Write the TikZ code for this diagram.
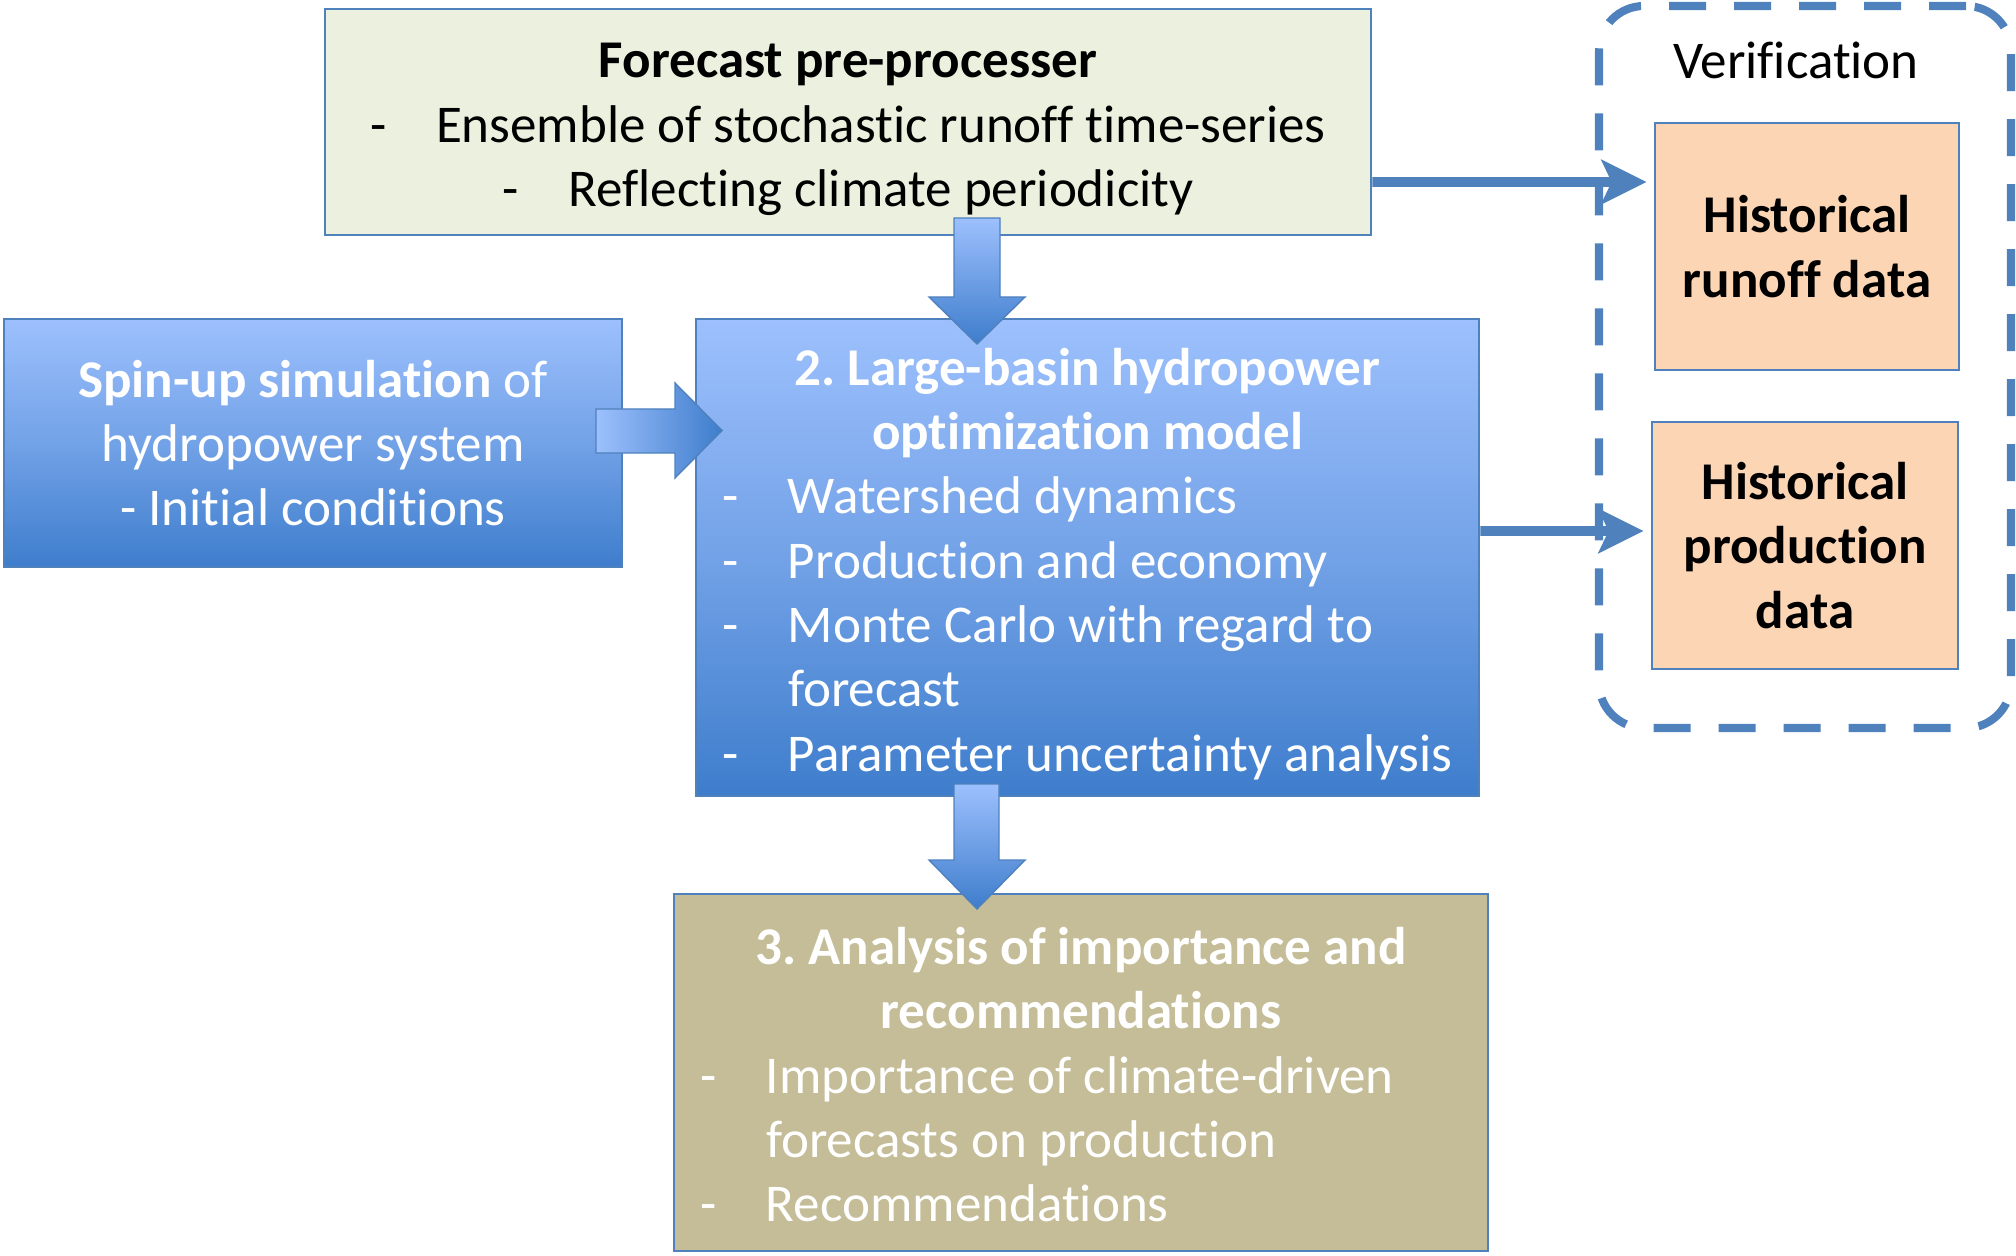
\documentclass[tikz,border=0pt]{standalone}
\usepackage{fontspec}
\setmainfont[Ligatures=NoCommon]{Carlito}
\usepackage{array}
\usetikzlibrary{arrows.meta}

\definecolor{edgeblue}{HTML}{4F81BD}
\definecolor{fcgreen}{HTML}{EBF1DE}
\definecolor{histpeach}{HTML}{FCD5B5}
\definecolor{khaki}{HTML}{C4BD97}
\definecolor{gradtop}{HTML}{9DC0FD}
\definecolor{gradbot}{HTML}{3E7DCC}

\newcommand{\dashgap}{\makebox[0.66cm][l]{-}}
\newcommand{\topstrut}[1]{\rule{0pt}{#1}}

\frenchspacing

\begin{document}
\begin{tikzpicture}[
    font=\fontsize{15.1}{18.3}\selectfont,
    box/.style={rectangle, draw=edgeblue, line width=0.8pt, inner sep=0pt, align=center},
    bluebox/.style={box, top color=gradtop, bottom color=gradbot, middle color=gradtop!55!gradbot, text=white},
    histbox/.style={box, fill=histpeach, font=\fontsize{15.1}{18.3}\selectfont\bfseries},
    verifbox/.style={draw=edgeblue, line width=2.3pt, rounded corners=0.45cm, dash pattern=on 0.37cm off 0.28cm},
    thinarrow/.style={-{Stealth[length=4.5mm, width=4.4mm, inset=1mm]}, edgeblue, line width=2.8pt, shorten >=0.7mm},
    downarrow/.style={top color=gradtop, bottom color=gradbot, draw=edgeblue, line width=0.4pt},
    rightarrow/.style={left color=gradtop, right color=gradbot, draw=edgeblue, line width=0.4pt}
]
\useasboundingbox (0,0) rectangle (20.16,12.55);

% Forecast
\node[box, fill=fcgreen, minimum width=10.46cm, minimum height=2.26cm] (fc) at (8.48,11.33)
    {\topstrut{14pt}\textbf{Forecast pre-processer}\\
     \dashgap Ensemble of stochastic runoff time-series\\
     \dashgap Reflecting climate periodicity};

% Spin-up and model
\node[bluebox, minimum width=6.18cm, minimum height=2.48cm] (spin) at (3.13,8.12)
    {\textbf{Spin-up simulation} of\\ hydropower system\\ - Initial conditions};

\node[bluebox, minimum width=7.83cm, minimum height=4.77cm] (opt) at (10.875,6.975)
    {\begin{tabular}{@{}p{0.66cm}@{}p{6.65cm}@{}}
     \multicolumn{2}{@{}c@{}}{\topstrut{17.2pt}\bfseries 2. Large-basin hydropower}\\
     \multicolumn{2}{@{}c@{}}{\bfseries optimization model}\\
     - & Watershed dynamics\\
     - & Production and economy\\
     - & Monte Carlo with regard to\\
       & forecast\\
     - & Parameter uncertainty analysis
     \end{tabular}};

% Analysis
\node[box, fill=khaki, text=white, minimum width=8.14cm, minimum height=3.57cm] (ana) at (10.81,1.825)
    {\begin{tabular}{@{}p{0.66cm}@{}p{6.96cm}@{}}
     \multicolumn{2}{@{}c@{}}{\topstrut{17.2pt}\bfseries 3. Analysis of importance and}\\
     \multicolumn{2}{@{}c@{}}{\bfseries recommendations}\\
     - & Importance of climate-driven\\
       & forecasts on production\\
     - & Recommendations
     \end{tabular}};

% Verification
\node[verifbox, minimum width=4.12cm, minimum height=7.22cm] (verif) at (18.05,8.88) {};
\node (veriflabel) at (17.96,11.95) {Verification};
\node[histbox, minimum width=3.04cm, minimum height=2.47cm] (hr) at (18.07,10.085) {Historical\\ runoff data};
\node[histbox, minimum width=3.06cm, minimum height=2.47cm] (hp) at (18.05,7.095) {Historical\\ production\\ data};

% Block arrows
\shadedraw[downarrow] (9.54,10.37) -- (10.00,10.37) -- (10.00,9.58) -- (10.25,9.58) -- (9.77,9.11) -- (9.29,9.58) -- (9.54,9.58) -- cycle;
\shadedraw[rightarrow] (5.96,8.46) -- (6.75,8.46) -- (6.75,8.72) -- (7.22,8.245) -- (6.75,7.77) -- (6.75,8.02) -- (5.96,8.02) -- cycle;
\shadedraw[downarrow] (9.54,4.71) -- (9.99,4.71) -- (9.99,3.95) -- (10.25,3.95) -- (9.77,3.46) -- (9.29,3.95) -- (9.54,3.95) -- cycle;

% Connections
\draw[thinarrow] ([yshift=-6mm]fc.east) -- ([yshift=6.45mm]hr.west);
\draw[thinarrow] ([yshift=2.65mm]opt.east) -- ([yshift=1.45mm]hp.west);

\end{tikzpicture}
\end{document}
